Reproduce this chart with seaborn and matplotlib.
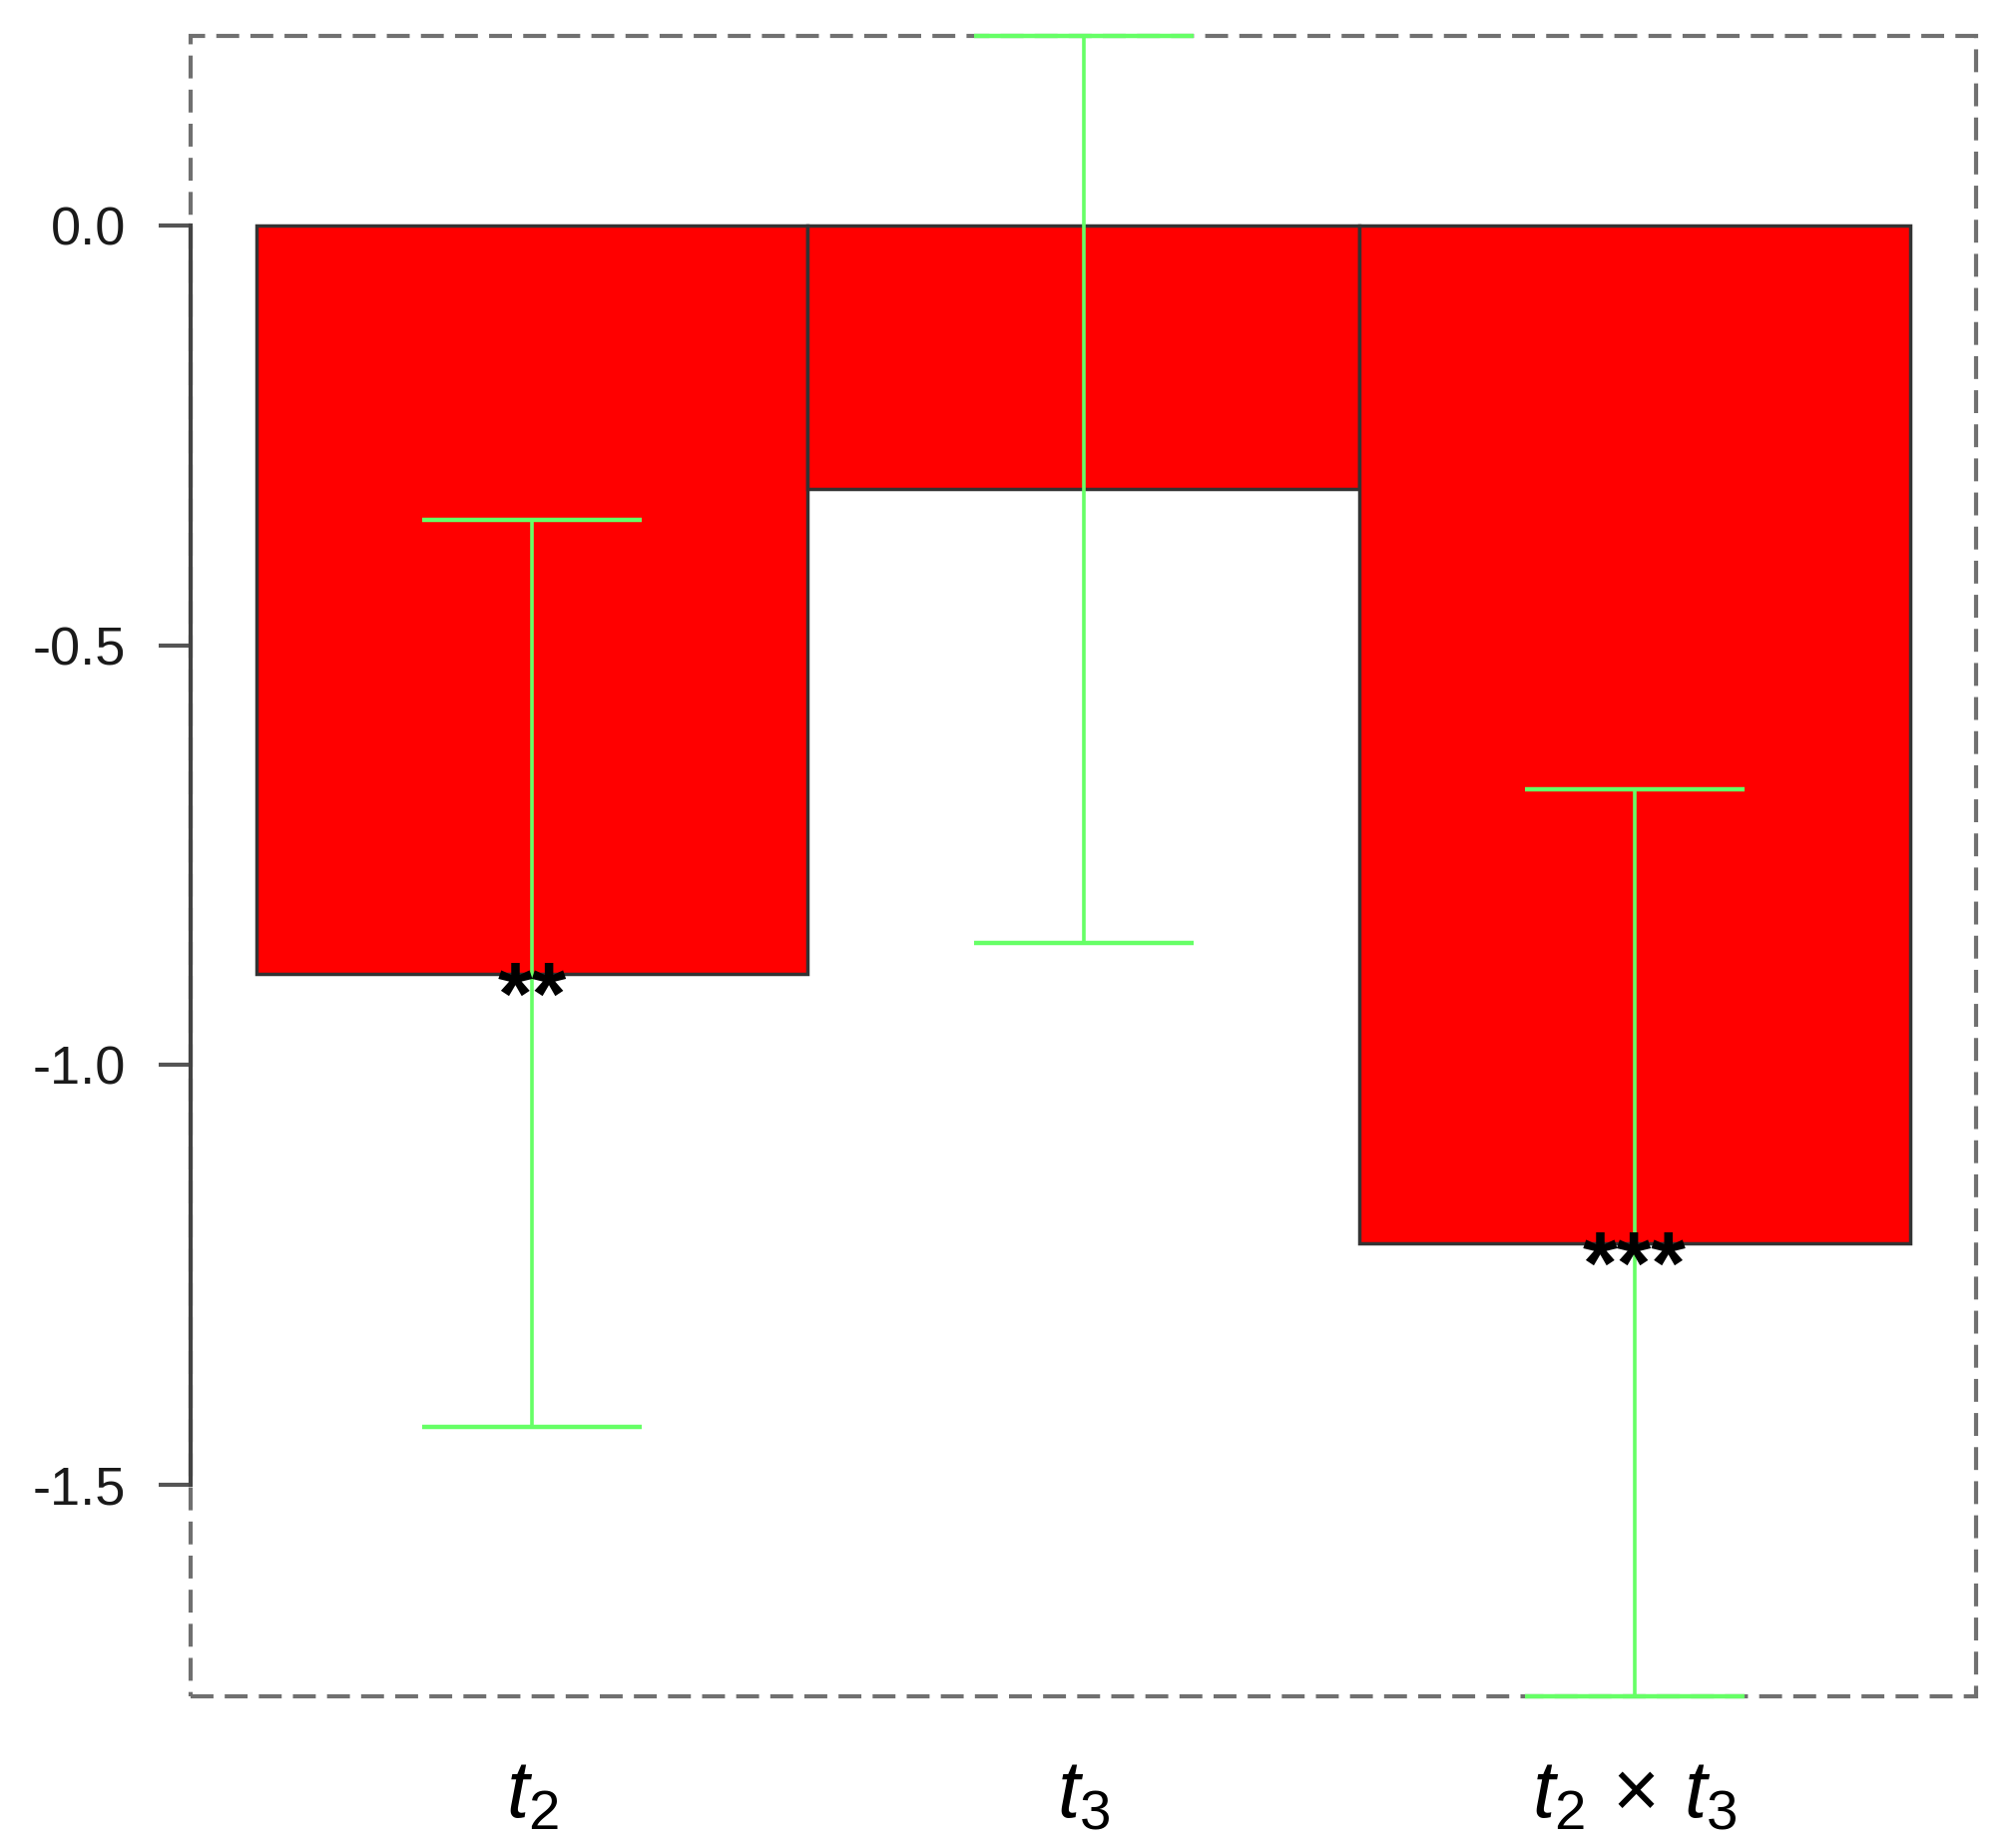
import numpy as np
import matplotlib
matplotlib.use("Agg")
import matplotlib.pyplot as plt
import seaborn as sns
from matplotlib.patches import Rectangle

# DATA
labels = [r"$t_2$", r"$t_3$", r"$t_2\,\times\,t_3$"]
values = [-0.891, -0.314, -1.212]
errors = [0.54, 0.54, 0.54]
stars = ["**", "", "***"]
yticks = [0.0, -0.5, -1.0, -1.5]
ytick_labels = ["0.0", "-0.5", "-1.0", "-1.5"]

# STYLE
sns.set_style("white")
plt.rcParams["font.family"] = ["Liberation Sans", "DejaVu Sans"]
plt.rcParams["mathtext.fontset"] = "custom"
plt.rcParams["mathtext.rm"] = "Liberation Sans"
plt.rcParams["mathtext.it"] = "Liberation Sans:italic"

fig = plt.figure(figsize=(20.2, 18.5), dpi=100)
ax = fig.add_axes([0.0946, 0.0811, 0.8856, 0.8994])

# BARS
sns.barplot(x=labels, y=values, color="red", saturation=1, width=1.0,
            edgecolor="#333333", linewidth=2.5, errorbar=None, ax=ax)

# ERROR BARS
xpos = np.arange(len(labels))
eb = ax.errorbar(xpos, values, yerr=errors, fmt="none", ecolor="#66ff66",
                 elinewidth=2.6, capsize=79, capthick=3.2, zorder=5)
for part in eb.lines:
    for art in (part if isinstance(part, tuple) else [part]):
        if art is not None:
            art.set_clip_on(False)

# SIGNIFICANCE STARS
for x, v, s in zip(xpos, values, stars):
    if s:
        ax.annotate(s, (x, v), xytext=(0, -36), textcoords="offset points",
                    ha="center", va="baseline", fontsize=64, color="black",
                    fontweight="bold", zorder=6)

# LIMITS
low = np.array(values) - np.array(errors)
high = np.array(values) + np.array(errors)
ax.set_xlim(-0.62, 2.62)
ax.set_ylim(low.min(), high.max())

# AXES
for side in ["top", "right", "bottom"]:
    ax.spines[side].set_visible(False)
ax.spines["left"].set_bounds(yticks[-1], yticks[0])
ax.spines["left"].set_color("#444444")
ax.spines["left"].set_linewidth(3)
ax.spines["left"].set_zorder(7)

box = Rectangle((0, 0), 1, 1, transform=ax.transAxes, fill=False,
                edgecolor="#707070", linewidth=3, linestyle=(0, (5.5, 2.7)),
                clip_on=False, zorder=4)
ax.add_patch(box)

ax.set_yticks(yticks)
ax.set_yticklabels(ytick_labels, fontsize=39, color="#1a1a1a")
ax.tick_params(axis="y", direction="out", length=23, width=3,
               color="#555555", pad=24, left=True)
ax.tick_params(axis="x", length=0, pad=45, labelsize=58, labelcolor="black")
ax.set_xlabel("")
ax.set_ylabel("")

fig.savefig("out.png", dpi=100)
